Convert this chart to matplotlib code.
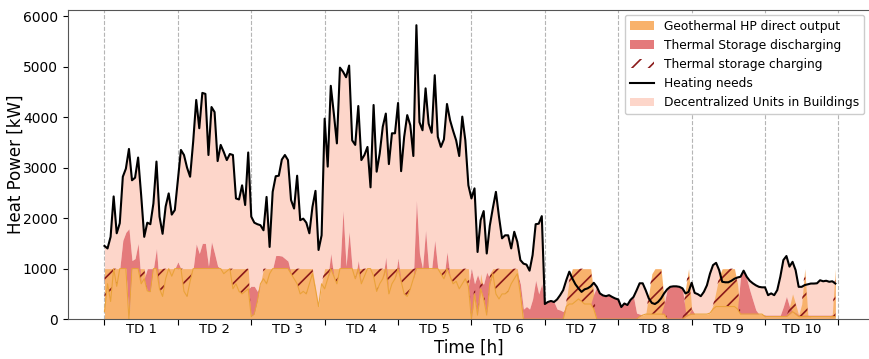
import numpy as np
import matplotlib
matplotlib.use("Agg")
import matplotlib.pyplot as plt
from matplotlib.patches import Patch
from matplotlib.lines import Line2D

# hourly values for the 10 typical days (24 h each), kW
heating_needs = [
    1450, 1400, 1630, 2430, 1700, 1900, 2820, 2980, 3370, 2750, 2800, 3200, 2450, 1630, 1910, 1880, 2290, 3120, 2030, 1690, 2230, 2490, 2070, 2160,  # TD 1
    2750, 3350, 3250, 3000, 2820, 3510, 4340, 3780, 4480, 4460, 3250, 4200, 4100, 3130, 3450, 3310, 3150, 3270, 3250, 2390, 2370, 2650, 2260, 3300,  # TD 2
    2030, 1910, 1880, 1860, 1760, 2420, 1430, 2520, 2830, 2840, 3160, 3250, 3150, 2360, 2190, 2840, 1960, 1990, 1910, 1700, 2220, 2540, 1370, 1660,  # TD 3
    3970, 3020, 4620, 4070, 3480, 4980, 4900, 4790, 5020, 3540, 3450, 4220, 3150, 3250, 3410, 2610, 4240, 2920, 3280, 3810, 4070, 3070, 3680, 3680,  # TD 4
    4280, 2930, 3610, 4040, 3840, 3230, 5820, 3900, 3740, 4570, 3870, 3690, 4830, 3610, 3410, 3560, 4260, 3940, 3730, 3540, 3230, 4010, 3540, 2650,  # TD 5
    2390, 2590, 1330, 1960, 2140, 1300, 1850, 2200, 2520, 2030, 1600, 1660, 1660, 1400, 1730, 1530, 1170, 1100, 1080, 960, 1270, 1880, 1890, 2040,   # TD 6
    300, 340, 360, 340, 390, 475, 575, 770, 940, 805, 690, 610, 540, 590, 610, 650, 720, 640, 510, 470, 455, 475, 440, 410,                         # TD 7
    390, 240, 310, 280, 380, 440, 570, 710, 710, 570, 410, 320, 300, 340, 410, 510, 590, 640, 650, 650, 640, 610, 510, 540,                         # TD 8
    720, 520, 495, 455, 540, 670, 900, 1070, 1115, 970, 740, 730, 730, 760, 800, 825, 840, 960, 840, 760, 710, 670, 640, 630,                       # TD 9
    630, 475, 510, 475, 575, 840, 1170, 1250, 1040, 1135, 970, 640, 640, 675, 690, 705, 705, 710, 770, 750, 760, 740, 750, 705,                     # TD 10
]

hp_direct = [
    150, 700, 350, 1000, 650, 1000, 1000, 1000, 0, 1000, 1000, 1000, 700, 800, 560, 540, 1000, 1000, 600, 450, 800, 1000, 850, 1000,
    1000, 1000, 550, 450, 750, 1000, 1000, 1000, 1000, 1000, 1000, 1000, 1000, 1000, 1000, 900, 950, 1000, 600, 700, 550, 500, 550, 600,
    50, 100, 350, 700, 800, 700, 900, 1000, 1000, 1000, 1000, 1000, 1000, 900, 800, 700, 500, 550, 500, 700, 900, 600, 250, 700,
    600, 800, 1000, 850, 700, 1000, 1000, 1000, 1000, 1000, 800, 1000, 700, 850, 1000, 1000, 850, 550, 700, 800, 1000, 500, 700, 800,
    1000, 750, 500, 450, 600, 800, 1000, 1000, 1000, 1000, 1000, 1000, 1000, 1000, 900, 800, 1000, 850, 700, 750, 600, 700, 800, 650,
    0, 500, 80, 600, 400, 80, 700, 900, 500, 400, 500, 500, 550, 700, 800, 900, 500, 0, 0, 0, 0, 0, 0, 0,
    0, 0, 0, 0, 0, 0, 0, 250, 300, 300, 350, 400, 350, 300, 300, 300, 200, 0, 0, 0, 0, 0, 0, 0,
    0, 0, 0, 0, 0, 0, 0, 50, 80, 100, 100, 100, 100, 100, 100, 100, 0, 0, 0, 0, 0, 0, 50, 80,
    100, 100, 100, 100, 100, 100, 120, 200, 250, 250, 250, 250, 250, 250, 250, 200, 100, 100, 100, 100, 100, 100, 100, 100,
    50, 50, 50, 50, 50, 50, 50, 50, 100, 150, 100, 50, 50, 50, 50, 50, 50, 50, 50, 50, 50, 50, 50, 50,
]

storage_charging = [
    850, 300, 650, 0, 350, 0, 0, 0, 0, 0, 0, 0, 300, 200, 0, 0, 0, 0, 400, 550, 200, 0, 150, 0,
    0, 0, 450, 550, 250, 0, 0, 0, 0, 0, 0, 0, 0, 0, 0, 100, 50, 0, 400, 300, 450, 500, 450, 400,
    0, 0, 0, 0, 200, 300, 100, 0, 0, 0, 0, 0, 0, 100, 200, 300, 500, 450, 500, 300, 100, 0, 0, 0,
    400, 200, 0, 150, 300, 0, 0, 0, 0, 0, 200, 0, 300, 150, 0, 0, 150, 450, 300, 200, 0, 500, 300, 200,
    0, 250, 500, 550, 400, 200, 0, 0, 0, 0, 0, 0, 0, 0, 100, 200, 0, 150, 300, 250, 400, 300, 200, 350,
    0, 200, 0, 300, 170, 0, 200, 100, 500, 600, 500, 500, 450, 300, 200, 100, 100, 0, 0, 0, 0, 0, 0, 0,
    0, 0, 0, 0, 0, 0, 0, 100, 500, 700, 650, 600, 650, 700, 700, 700, 300, 0, 0, 0, 0, 0, 0, 0,
    0, 0, 0, 0, 0, 0, 0, 0, 0, 0, 400, 800, 900, 900, 900, 300, 0, 0, 0, 0, 0, 0, 550, 920,
    100, 0, 0, 0, 0, 0, 0, 80, 310, 600, 750, 750, 750, 750, 750, 500, 0, 0, 0, 0, 0, 0, 0, 0,
    0, 0, 0, 0, 0, 0, 0, 0, 150, 350, 200, 30, 250, 950, 30, 0, 0, 0, 0, 0, 0, 0, 50, 950,
]

storage_discharging = [
    0, 0, 0, 0, 0, 0, 560, 720, 1790, 160, 200, 500, 0, 0, 440, 460, 0, 400, 0, 0, 0, 0, 0, 0,
    130, 0, 0, 0, 0, 0, 490, 300, 500, 500, 50, 530, 300, 50, 0, 0, 0, 0, 0, 0, 0, 0, 0, 0,
    600, 550, 200, 0, 0, 0, 0, 0, 260, 260, 250, 200, 150, 0, 0, 0, 0, 0, 0, 0, 0, 0, 0, 0,
    0, 0, 300, 0, 0, 0, 1150, 50, 730, 0, 0, 160, 0, 0, 0, 0, 0, 0, 0, 0, 230, 0, 0, 0,
    200, 0, 0, 0, 0, 0, 1350, 300, 0, 760, 0, 0, 560, 0, 0, 0, 330, 0, 0, 0, 0, 0, 0, 0,
    1000, 200, 800, 100, 300, 850, 100, 0, 0, 0, 0, 0, 0, 0, 0, 0, 200, 200, 250, 200, 400, 770, 500, 700,
    300, 340, 360, 340, 200, 180, 150, 0, 0, 0, 0, 0, 0, 0, 0, 0, 300, 640, 510, 470, 455, 475, 440, 410,
    390, 240, 310, 280, 380, 440, 120, 50, 0, 0, 0, 0, 0, 0, 0, 200, 590, 640, 650, 650, 640, 610, 100, 0,
    100, 0, 0, 0, 0, 0, 0, 0, 0, 0, 0, 0, 0, 0, 0, 0, 740, 860, 700, 475, 275, 80, 0, 0,
    30, 30, 30, 30, 30, 30, 200, 400, 150, 0, 30, 30, 30, 30, 30, 30, 30, 30, 30, 30, 30, 30, 30, 0,
]

day_labels = ["TD %d" % i for i in range(1, 11)]

demand = np.array(heating_needs, dtype=float)
direct = np.array(hp_direct, dtype=float)
charge = np.array(storage_charging, dtype=float)
disch = np.array(storage_discharging, dtype=float)
hours = np.arange(len(demand))

plt.rcParams['hatch.color'] = '#8b1a1a'
plt.rcParams['hatch.linewidth'] = 1.2

c_orange = '#f8b26c'
c_red = '#e47a7b'
c_pink = '#fdd6ca'
c_hatch = '#8b1a1a'

fig = plt.figure(figsize=(8.69, 3.59), dpi=100)
ax = fig.add_axes([0.078, 0.111, 0.922, 0.861])

ax.fill_between(hours, direct + disch, demand, where=demand >= direct + disch,
                interpolate=True, color=c_pink, lw=0)
ax.fill_between(hours, 0, direct + charge, color=c_orange, lw=0)
ax.fill_between(hours, direct, direct + disch, color=c_red, lw=0)
ax.fill_between(hours, direct, direct + charge, facecolor='none',
                edgecolor=c_hatch, hatch='//', lw=0)
ax.plot(hours, direct, color='#eaa23a', lw=0.8)
ax.plot(hours, demand, color='black', lw=1.5)

for b in range(0, 241, 24):
    ax.axvline(b, color='#b5b5b5', ls='--', lw=0.8, zorder=0.5)

ax.set_xlim(-12, 250)
ax.set_ylim(0, 6120)
ax.set_xticks(range(0, 241, 24))
ax.set_xticklabels([])
ax.set_xticks(np.arange(12, 240, 24), minor=True)
ax.set_xticklabels(day_labels, minor=True)
ax.tick_params(axis='x', which='minor', length=0, labelsize=9.5, pad=3)
ax.tick_params(axis='x', which='major', length=4)
ax.tick_params(axis='y', labelsize=10)
ax.set_yticks(range(0, 6001, 1000))
ax.spines['right'].set_visible(False)
for s in ['left', 'top', 'bottom']:
    ax.spines[s].set_color('#555555')

ax.set_xlabel("Time [h]", fontsize=12, labelpad=2)
ax.set_ylabel("Heat Power [kW]", fontsize=12, labelpad=-1)

handles = [
    Patch(facecolor=c_orange, label="Geothermal HP direct output"),
    Patch(facecolor=c_red, label="Thermal Storage discharging"),
    Patch(facecolor='none', edgecolor=c_hatch, lw=0, hatch='//', label="Thermal storage charging"),
    Line2D([0], [0], color='black', lw=1.5, label="Heating needs"),
    Patch(facecolor=c_pink, label="Decentralized Units in Buildings"),
]
ax.legend(handles=handles, loc='upper right', fontsize=8.8, framealpha=1,
          borderaxespad=0.4)

fig.savefig("out.png", dpi=100)
